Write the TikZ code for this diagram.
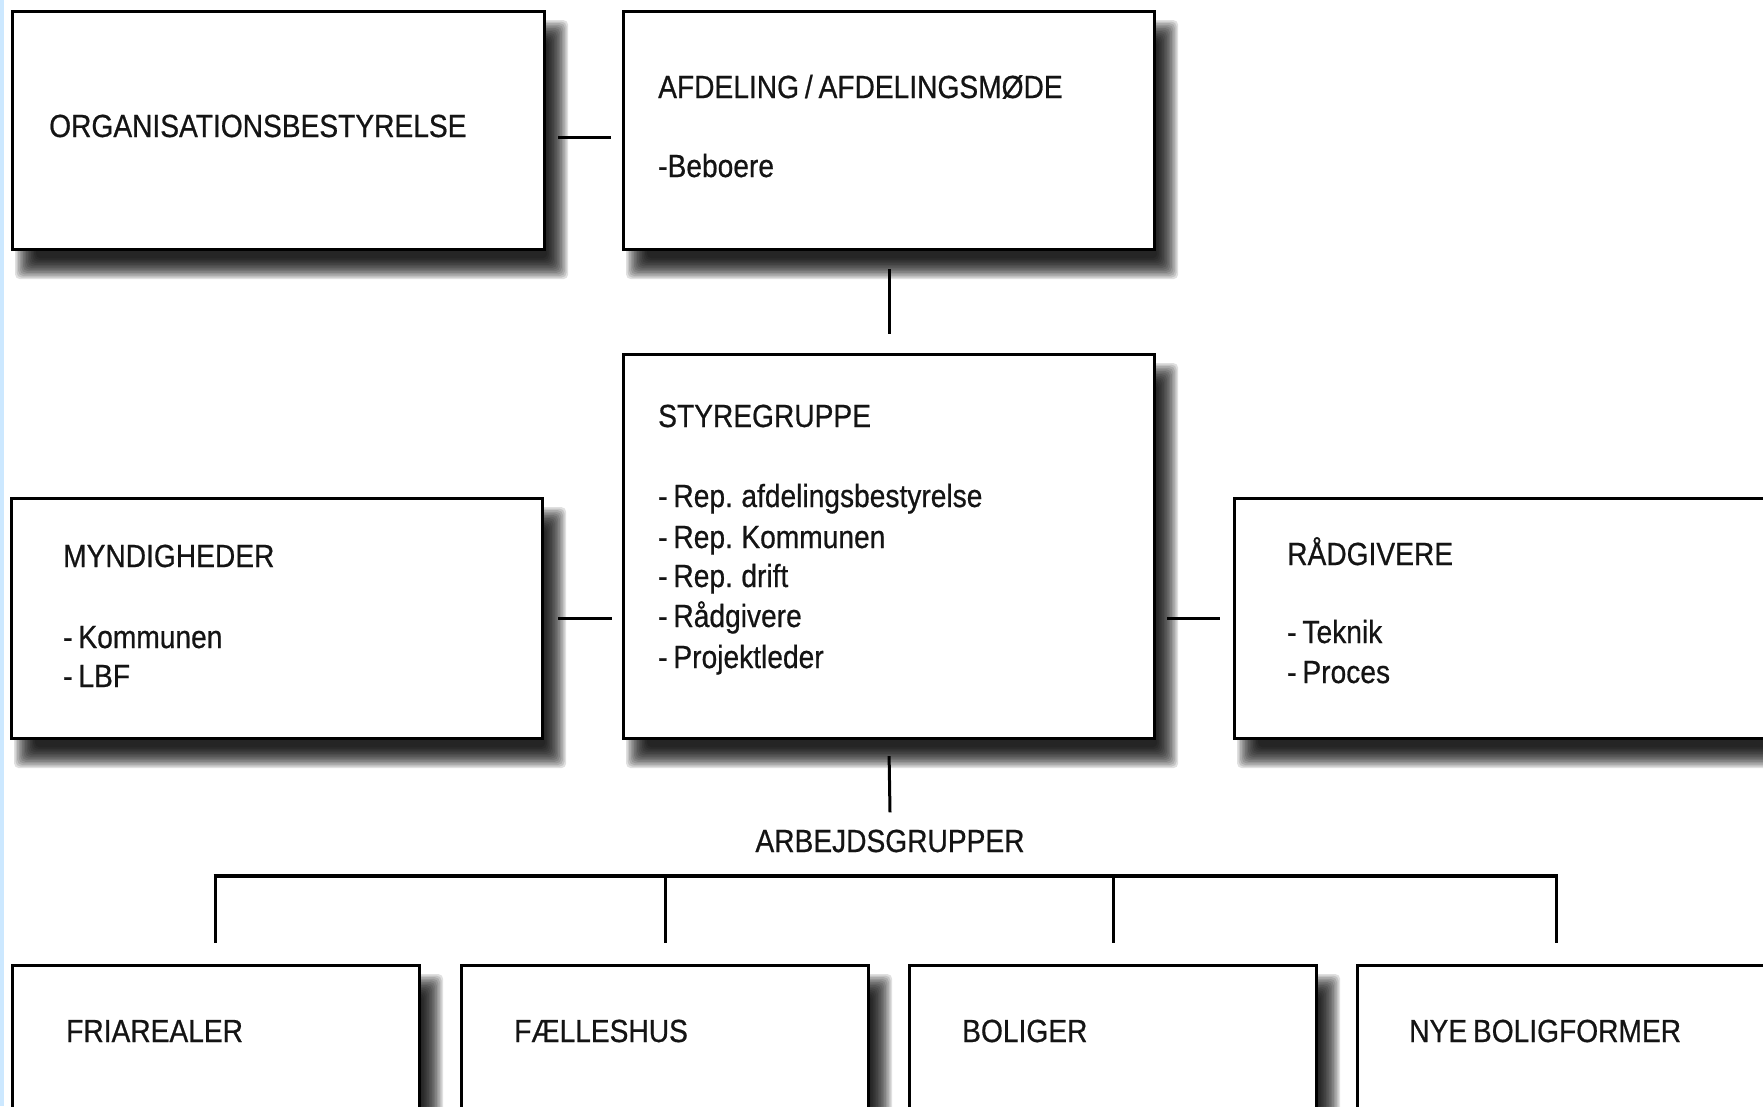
\documentclass[tikz,border=0pt]{standalone}
\usepackage{fontspec}
\setmainfont{Liberation Sans}[FakeStretch=0.88, WordSpace=0.75, FakeBold=0.6]
\pgfdeclarelayer{bgfill}
\pgfdeclarelayer{shadowlayer}
\pgfsetlayers{bgfill,shadowlayer,main}
\definecolor{stripblue}{RGB}{204,232,255}
\newcommand\mkboxshadow[1]{%
  \foreach \i in {0,...,13}{%
    \pgfmathsetmacro\lo{13-9+1.6*\i}%
    \pgfmathsetmacro\hi{13+9-1.6*\i}%
    \pgfmathsetmacro\blo{-19-9+1.6*\i}%
    \pgfmathsetmacro\bhi{-19+9-1.6*\i}%
    \fill[black, opacity=0.12, rounded corners=5pt]
      ([xshift=\lo pt, yshift=\blo pt]#1.south west) rectangle
      ([xshift=\hi pt, yshift=\bhi pt]#1.north east);
  }%
}
\tikzset{
  bx/.style={draw=black, line width=3.2pt, fill=white, inner sep=0pt, anchor=north west},
  txt/.style={anchor=base west, inner sep=0pt, font=\fontsize{32}{40}\selectfont, text=black!92},
  conn/.style={line width=3pt, draw=black},
  barline/.style={line width=4pt, draw=black}
}
\begin{document}
\begin{tikzpicture}[x=1pt, y=1pt]
\useasboundingbox (0,0) rectangle (1763,-1106);
\clip (0,0) rectangle (1763,-1106);
\begin{pgfonlayer}{bgfill}
\fill[white] (0,0) rectangle (1763,-1106);
\fill[stripblue] (0,0) rectangle (4,-1106);
\end{pgfonlayer}

% boxes
\node[bx, minimum width=532pt, minimum height=238pt] (org) at (11,-10) {};
\node[bx, minimum width=531pt, minimum height=238pt] (afd) at (622,-10) {};
\node[bx, minimum width=531pt, minimum height=384pt] (styre) at (622,-353) {};
\node[bx, minimum width=531pt, minimum height=240pt] (mynd) at (10,-497) {};
\node[bx, minimum width=533pt, minimum height=240pt] (raad) at (1233,-497) {};
\node[bx, minimum width=407pt, minimum height=200pt] (fri) at (11,-964) {};
\node[bx, minimum width=407pt, minimum height=200pt] (fael) at (460,-964) {};
\node[bx, minimum width=407pt, minimum height=200pt] (bol) at (908,-964) {};
\node[bx, minimum width=409pt, minimum height=200pt] (nye) at (1356,-964) {};

\begin{pgfonlayer}{shadowlayer}
\foreach \b in {org,afd,styre,mynd,raad,fri,fael,bol,nye}{\mkboxshadow{\b}}
\end{pgfonlayer}

% texts
\node[txt] (torg) at (49,-137) {ORGANISATIONSBESTYRELSE};
\node[txt] (tafd) at (658,-98) {AFDELING / AFDELINGSMØDE};
\node[txt] (tbeb) at (658,-177) {-Beboere};
\node[txt] (tsty) at (658,-427) {STYREGRUPPE};
\node[txt] (ts1) at (658,-507) {- Rep. afdelingsbestyrelse};
\node[txt] (ts2) at (658,-548) {- Rep. Kommunen};
\node[txt] (ts3) at (658,-587) {- Rep. drift};
\node[txt] (ts4) at (658,-627) {- Rådgivere};
\node[txt] (ts5) at (658,-668) {- Projektleder};
\node[txt] (tmyn) at (63,-567) {MYNDIGHEDER};
\node[txt] (tm1) at (63,-648) {- Kommunen};
\node[txt] (tm2) at (63,-687) {- LBF};
\node[txt] (traa) at (1287,-565) {RÅDGIVERE};
\node[txt] (tr1) at (1287,-643) {- Teknik};
\node[txt] (tr2) at (1287,-683) {- Proces};
\node[txt] (tfri) at (66,-1042) {FRIAREALER};
\node[txt] (tfae) at (514,-1042) {FÆLLESHUS};
\node[txt] (tbol) at (962,-1042) {BOLIGER};
\node[txt] (tnye) at (1409,-1042) {NYE BOLIGFORMER};
\node[txt, anchor=base] (arb) at (890,-852) {ARBEJDSGRUPPER};

% connectors
\draw[conn, shorten <=12pt, shorten >=11pt] ([yshift=-7pt]org.east) -- ([yshift=-7pt]afd.west);
\draw[conn, shorten <=18pt, shorten >=19pt] (afd.south) -- (styre.north);
\draw[conn, shorten <=14pt, shorten >=10pt] (mynd.east) -- (mynd.east -| styre.west);
\draw[conn, shorten <=11pt, shorten >=13pt] (mynd.east -| styre.east) -- (raad.west);
\draw[conn] ([yshift=-16pt]styre.south) -- ([yshift=17pt]arb.north);

\coordinate (barl) at (215,-876);
\coordinate (barr) at (1556,-876);
\draw[barline] ([xshift=-1.5pt]barl) -- ([xshift=1.5pt]barr);
\draw[conn] (barl) -- ([yshift=21pt]barl |- fri.north);
\draw[conn] (fael.north |- barl) -- ([yshift=21pt]fael.north);
\draw[conn] (bol.north |- barl) -- ([yshift=21pt]bol.north);
\draw[conn] (barr) -- ([yshift=21pt]barr |- nye.north);
\end{tikzpicture}
\end{document}
